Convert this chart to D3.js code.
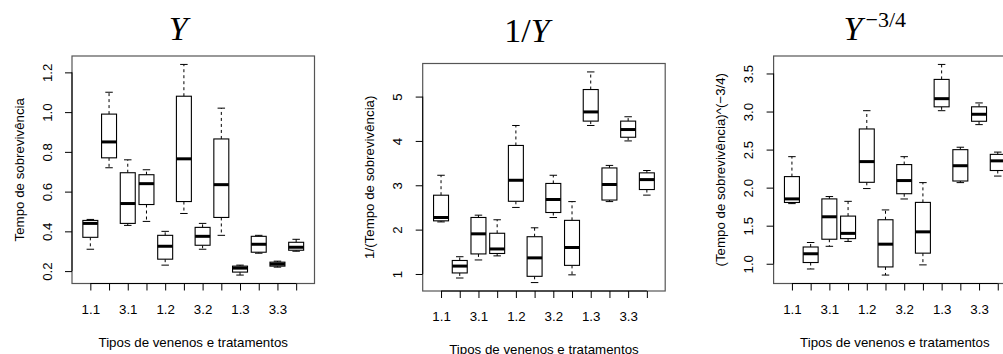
<!DOCTYPE html>
<html><head><meta charset="utf-8">
<script src="https://cdn.jsdelivr.net/npm/d3@7"></script>
<style>body{margin:0;background:#fff}svg{display:block}</style>
</head><body>
<svg id="c" width="1003" height="354"></svg>
<script>
// group labels (treatment.poison); R shows every other one
const groupLabels = ["1.1","2.1","3.1","4.1","1.2","2.2","3.2","4.2","1.3","2.3","3.3","4.3"];
// five-number summaries [min, lower hinge, median, upper hinge, max]
const statsY = [
  [0.31,0.37,0.44,0.455,0.46],[0.72,0.77,0.85,0.99,1.10],[0.43,0.44,0.54,0.695,0.76],[0.45,0.535,0.64,0.685,0.71],
  [0.23,0.26,0.325,0.38,0.40],[0.49,0.55,0.765,1.08,1.24],[0.31,0.33,0.375,0.42,0.44],[0.38,0.47,0.635,0.865,1.02],
  [0.18,0.195,0.215,0.225,0.23],[0.29,0.295,0.335,0.375,0.38],[0.22,0.225,0.235,0.245,0.25],[0.30,0.305,0.32,0.345,0.36]
];
const statsInv = [
  [2.174,2.198,2.274,2.776,3.226],[0.909,1.023,1.178,1.304,1.389],[1.316,1.452,1.905,2.274,2.326],[1.408,1.462,1.564,1.918,2.222],
  [2.500,2.639,3.113,3.898,4.348],[0.806,0.947,1.363,1.840,2.041],[2.273,2.386,2.679,3.041,3.226],[0.980,1.194,1.597,2.209,2.632],
  [4.348,4.447,4.654,5.159,5.556],[2.632,2.667,3.018,3.391,3.448],[4.000,4.083,4.257,4.447,4.545],[2.778,2.904,3.128,3.280,3.333]
];
const statsPow = [
  [1.790,1.805,1.852,2.145,2.407],[0.931,1.016,1.131,1.220,1.279],[1.229,1.322,1.617,1.852,1.883],[1.293,1.330,1.399,1.626,1.820],
  [1.988,2.070,2.342,2.771,3.011],[0.851,0.958,1.257,1.578,1.707],[1.851,1.920,2.093,2.303,2.407],[0.985,1.139,1.419,1.806,2.066],
  [3.011,3.062,3.169,3.422,3.619],[2.066,2.087,2.288,2.499,2.531],[2.828,2.872,2.964,3.062,3.113],[2.152,2.225,2.352,2.437,2.467]
];
const ticksY = [0.2,0.4,0.6,0.8,1.0,1.2];
const ticksInv = [1,2,3,4,5];
const ticksPow = [1.0,1.5,2.0,2.5,3.0,3.5];
const yTitles = ["Tempo de sobrevivência","1/(Tempo de sobrevivência)","(Tempo de sobrevivência)^(\u22123/4)"];
const xTitle = "Tipos de venenos e tratamentos";

const panels = [
  {stats: statsY, ticks: ticksY, fmt: d3.format(".1f"), ytitle: yTitles[0], left: 72, top: 56, tb: 40, title: "Y"},
  {stats: statsInv, ticks: ticksInv, fmt: d3.format("d"), ytitle: yTitles[1], left: 422.7, top: 63.5, tb: 42, title: "1/Y"},
  {stats: statsPow, ticks: ticksPow, fmt: d3.format(".1f"), ytitle: yTitles[2], left: 773.6, top: 56, tb: 40, title: "Ypow"}
];
const W = 242.5, H = 227.5;
const svg = d3.select("#c");
svg.append("rect").attr("width",1003).attr("height",354).attr("fill","#fff");
const sans = "'Liberation Sans', Arial, Helvetica, sans-serif";
const serif = "'Liberation Serif', 'Times New Roman', serif";

panels.forEach(p => {
  const g = svg.append("g");
  const lo = d3.min(p.stats, d => d[0]), hi = d3.max(p.stats, d => d[4]);
  const pad = (hi - lo) * 0.04;
  const y = d3.scaleLinear().domain([lo - pad, hi + pad]).range([p.top + H, p.top]);
  const x = d3.scaleLinear().domain([0.02, 12.98]).range([p.left, p.left + W]);
  const hw = 0.4, cw = 0.2;

  // boxes
  p.stats.forEach((s, i) => {
    const c = i + 1;
    const bg = g.append("g").attr("stroke","#000").attr("fill","none");
    bg.append("line").attr("x1",x(c)).attr("x2",x(c)).attr("y1",y(s[3])).attr("y2",y(s[4])).attr("stroke-dasharray","3,3");
    bg.append("line").attr("x1",x(c)).attr("x2",x(c)).attr("y1",y(s[1])).attr("y2",y(s[0])).attr("stroke-dasharray","3,3");
    bg.append("line").attr("x1",x(c-cw)).attr("x2",x(c+cw)).attr("y1",y(s[4])).attr("y2",y(s[4]));
    bg.append("line").attr("x1",x(c-cw)).attr("x2",x(c+cw)).attr("y1",y(s[0])).attr("y2",y(s[0]));
    bg.append("rect").attr("x",x(c-hw)).attr("width",x(c+hw)-x(c-hw)).attr("y",y(s[3])).attr("height",y(s[1])-y(s[3])).attr("fill","#fff").attr("stroke-width",1.1);
    bg.append("line").attr("x1",x(c-hw)).attr("x2",x(c+hw)).attr("y1",y(s[2])).attr("y2",y(s[2])).attr("stroke-width",3);
  });

  // frame
  g.append("rect").attr("x",p.left).attr("y",p.top).attr("width",W).attr("height",H)
    .attr("fill","none").attr("stroke","#555").attr("stroke-width",1.2);

  // y axis
  const ya = d3.axisLeft(y).tickValues(p.ticks).tickFormat(p.fmt).tickSize(7).tickPadding(4);
  const yg = g.append("g").attr("transform",`translate(${p.left},0)`).call(ya);
  yg.select(".domain").attr("d",`M0,${y(p.ticks[0])}V${y(p.ticks[p.ticks.length-1])}`).attr("stroke","#000");
  yg.selectAll(".tick line").attr("stroke","#000");
  yg.selectAll(".tick text").attr("font-family",sans).attr("font-size",13.3).attr("fill","#000")
    .attr("text-anchor","middle").attr("dy",null).attr("x",null)
    .attr("transform","translate(-25,0) rotate(-90)").attr("dominant-baseline","central");

  // x axis
  const xa = d3.axisBottom(x).tickValues(d3.range(1,13)).tickFormat((d,i) => i % 2 === 0 ? groupLabels[i] : "").tickSize(7).tickPadding(14);
  const xg = g.append("g").attr("transform",`translate(0,${p.top+H})`).call(xa);
  xg.select(".domain").attr("d",`M${x(1)},0H${x(12)}`).attr("stroke","#000");
  xg.selectAll(".tick line").attr("stroke","#000");
  xg.selectAll(".tick text").attr("font-family",sans).attr("font-size",13.3).attr("fill","#000");

  // axis titles
  g.append("text").attr("transform",`translate(${p.left-53},${p.top+H/2}) rotate(-90)`)
    .attr("text-anchor","middle").attr("dominant-baseline","central")
    .attr("font-family",sans).attr("font-size",13.3).text(p.ytitle);
  g.append("text").attr("x",p.left+W/2).attr("y",p.top+H+63)
    .attr("text-anchor","middle").attr("font-family",sans).attr("font-size",13.3).text(xTitle);

  // main title
  const t = g.append("text").attr("y",p.tb).attr("text-anchor","middle")
    .attr("font-family",serif).attr("font-size",34);
  if (p.title === "Y") {
    t.attr("x",p.left+W/2-15);
    t.append("tspan").attr("font-style","italic").text("Y");
  } else if (p.title === "1/Y") {
    t.attr("x",p.left+W/2-17);
    t.append("tspan").text("1/");
    t.append("tspan").attr("font-style","italic").text("Y");
  } else {
    t.attr("x",p.left+W/2-20);
    t.append("tspan").attr("font-style","italic").text("Y");
    t.append("tspan").attr("font-size",22).attr("dy",-13).attr("dx",3).text("\u22123/4");
  }
});
</script>
</body></html>
